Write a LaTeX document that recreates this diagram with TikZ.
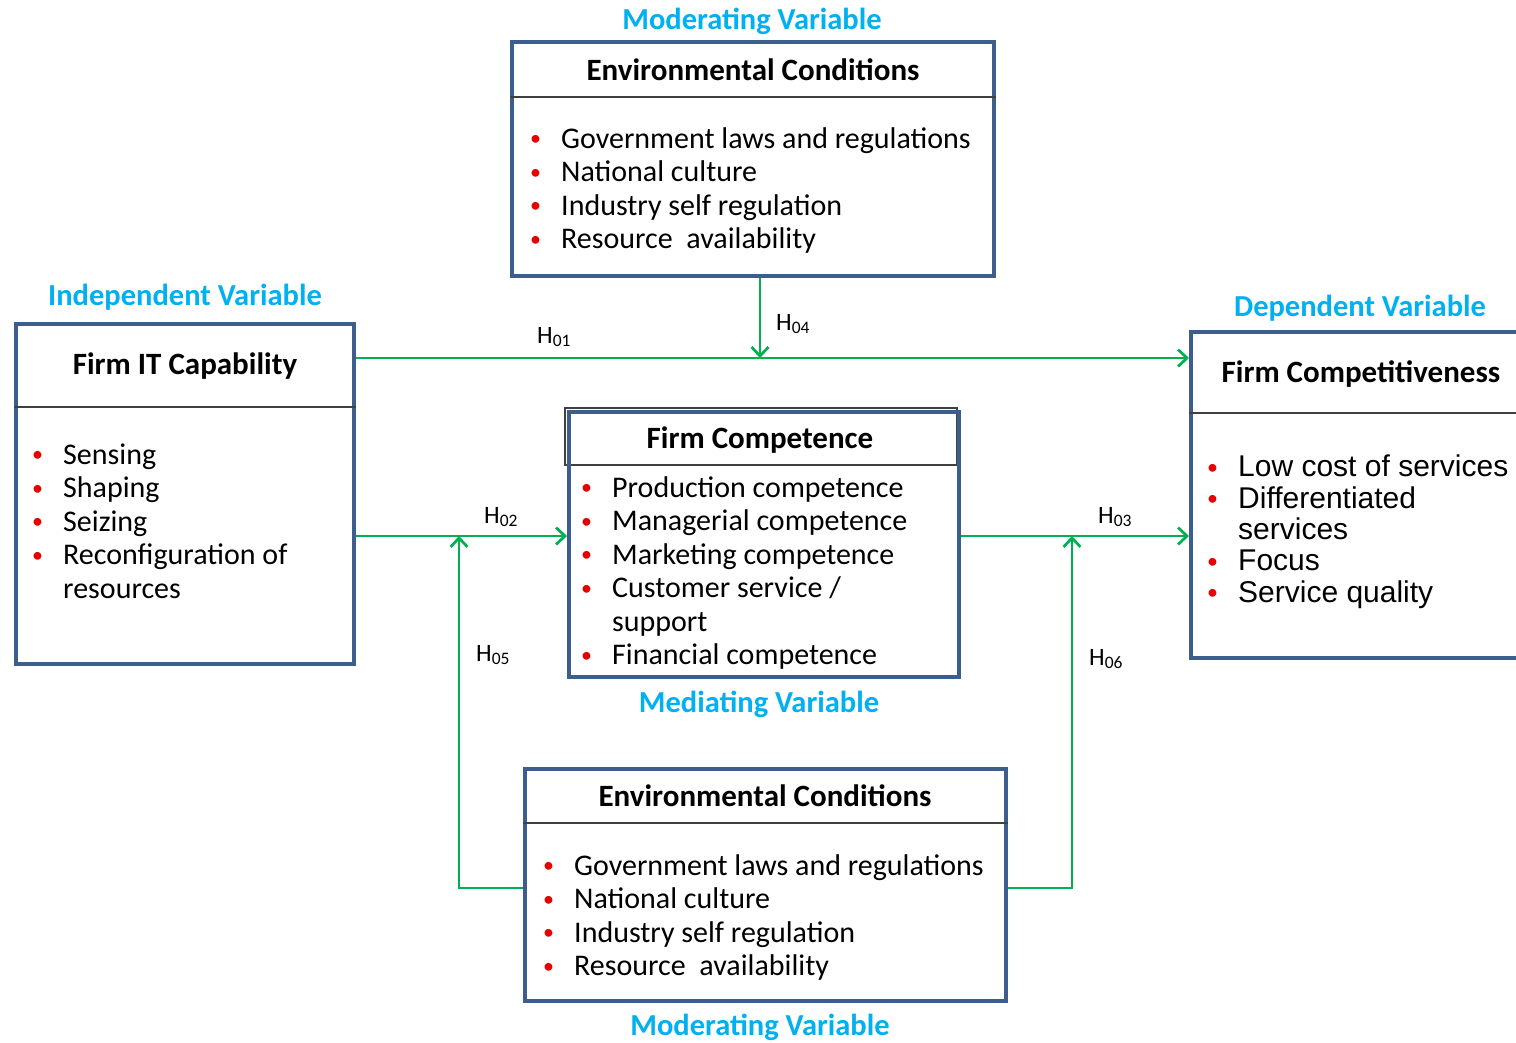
\documentclass[tikz,border=0pt]{standalone}
\usepackage{fontspec}
\setmainfont{Carlito}
\newfontfamily\arialfont{Liberation Sans}
\usetikzlibrary{arrows.meta}

\definecolor{boxblue}{RGB}{59,94,140}
\definecolor{linkgreen}{RGB}{0,176,80}
\definecolor{labcyan}{RGB}{0,176,240}
\definecolor{bulletred}{RGB}{230,0,0}

\newcommand{\bul}{\makebox[28pt][l]{\hspace*{-3pt}\raisebox{2.5pt}{\normalfont\fontsize{22}{22}\selectfont\textcolor{bulletred}{\textbullet}}}}
\newcommand{\gap}{\hspace*{28pt}}

\tikzset{
  varbox/.style={draw=boxblue, line width=4pt, inner sep=0pt},
  headline/.style={draw=black!75, line width=1.5pt},
  boxtitle/.style={font=\fontsize{31}{34}\selectfont\bfseries, anchor=base, inner sep=0pt},
  varlabel/.style={text=labcyan, font=\fontsize{30.5}{33}\selectfont\bfseries, anchor=base, inner sep=0pt},
  itemlist/.style={font=\fontsize{30}{33.5}\selectfont, align=left, anchor=base west, inner sep=0pt},
  link/.style={draw=linkgreen, line width=2.7pt, -{Straight Barb[length=9pt,width=17pt]}},
  hlabel/.style={font=\fontsize{25}{25}\selectfont, anchor=base west, inner sep=0pt}
}

\begin{document}
\begin{tikzpicture}[x=1pt,y=-1pt]
\useasboundingbox (0,0) rectangle (1516,1042);

% header strip of the mediating box
\draw[headline] (565,408) rectangle (957,465);

% variable boxes
\node[varbox, minimum width=482pt, minimum height=234pt] (envtop) at (753,159) {};
\node[varbox, minimum width=338pt, minimum height=340pt] (itcap) at (185,494) {};
\node[varbox, minimum width=340pt, minimum height=326pt] (comp) at (1361,495) {};
\node[varbox, minimum width=390pt, minimum height=265pt] (compt) at (764,544.5) {};
\node[varbox, minimum width=481pt, minimum height=232pt] (envbot) at (765.5,885) {};

% header rules
\draw[headline] (envtop.west |- 0,97) -- (envtop.east |- 0,97);
\draw[headline] (itcap.west |- 0,407) -- (itcap.east |- 0,407);
\draw[headline] (comp.west |- 0,413) -- (comp.east |- 0,413);
\draw[headline] (envbot.west |- 0,823) -- (envbot.east |- 0,823);

% titles
\node[boxtitle] (envtop-t) at (753,80) {Environmental Conditions};
\node[boxtitle] (itcap-t) at (185,374) {Firm IT Capability};
\node[boxtitle] (comp-t) at (1361,382) {Firm Competitiveness};
\node[boxtitle] (compt-t) at (760,448) {Firm Competence};
\node[boxtitle] (envbot-t) at (765,806) {Environmental Conditions};

% item lists (placed at the baseline of their last line)
\node[itemlist] (envtop-l) at (533,248.5) {\bul Government laws and regulations\\
  \bul National culture\\ \bul Industry self regulation\\ \bul Resource~ availability};
\node[itemlist] (itcap-l) at (35,598) {\bul Sensing\\ \bul Shaping\\ \bul Seizing\\
  \bul Reconfiguration of\\ \gap resources};
\node[itemlist] (compt-l) at (584,664.5) {\bul Production competence\\
  \bul Managerial competence\\ \bul Marketing competence\\
  \bul Customer service /\\ \gap support\\ \bul Financial competence};
\node[itemlist, font=\arialfont\fontsize{30}{31.3}\selectfont] (comp-l) at (1210,602)
  {\bul Low cost of services\\ \bul Differentiated\\ \gap services\\
  \bul Focus\\ \bul Service quality};
\node[itemlist] (envbot-l) at (546,975.5) {\bul Government laws and regulations\\
  \bul National culture\\ \bul Industry self regulation\\ \bul Resource~ availability};

% variable labels
\node[varlabel] (modtop) at (752,29) {Moderating Variable};
\node[varlabel] (indep) at (185,305) {Independent Variable};
\node[varlabel] (dep) at (1360,316) {Dependent Variable};
\node[varlabel] (med) at (759,712) {Mediating Variable};
\node[varlabel] (modbot) at (760,1035) {Moderating Variable};

% hypothesis links
\coordinate (j1) at (760,358);
\coordinate (j2) at (459,536);
\coordinate (j3) at (1072,536);
\draw[link] (itcap.east |- j1) -- (comp.west |- j1);
\draw[link] (envtop.south -| j1) -- (j1);
\draw[link] (itcap.east |- j2) -- (compt.west |- j2);
\draw[link] (compt.east |- j2) -- (comp.west |- j2);
\draw[link] ([yshift=-3pt]envbot.west) -| (j2);
\draw[link] ([yshift=-3pt]envbot.east) -| (j3);

\node[hlabel] (h01) at (537,343) {H\textsubscript{01}};
\node[hlabel] (h04) at (776,330) {H\textsubscript{04}};
\node[hlabel] (h02) at (484,523) {H\textsubscript{02}};
\node[hlabel] (h03) at (1098,523) {H\textsubscript{03}};
\node[hlabel] (h05) at (476,661) {H\textsubscript{05}};
\node[hlabel] (h06) at (1089,665) {H\textsubscript{06}};
\end{tikzpicture}
\end{document}
